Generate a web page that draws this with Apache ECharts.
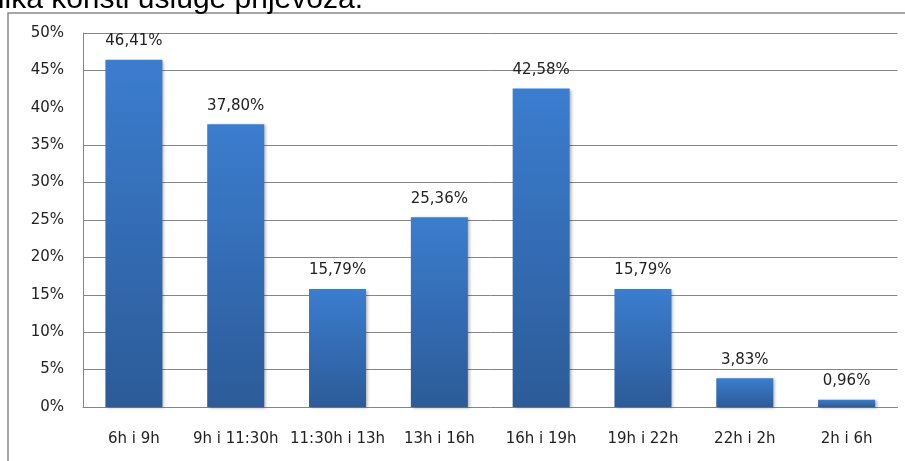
<!DOCTYPE html>
<html>
<head>
<meta charset="utf-8">
<script src="https://cdn.jsdelivr.net/npm/echarts@6/dist/echarts.min.js"></script>
<style>
html,body{margin:0;padding:0;background:#fff;}
#chart{width:905px;height:461px;}
</style>
</head>
<body>
<div id="chart"></div>
<script>
var categories = ['6h i 9h', '9h i 11:30h', '11:30h i 13h', '13h i 16h', '16h i 19h', '19h i 22h', '22h i 2h', '2h i 6h'];
var values = [46.41, 37.80, 15.79, 25.36, 42.58, 15.79, 3.83, 0.96];
var yTicks = [0, 5, 10, 15, 20, 25, 30, 35, 40, 45, 50];
var gridValues = [5, 10, 15, 20, 25, 30, 35, 45, 50];
var titleText = 'nika koristi usluge prijevoza.';

var chart = echarts.init(document.getElementById('chart'), null, {renderer: 'canvas'});
chart.setOption({
  animation: false,
  backgroundColor: '#ffffff',
  graphic: [
    {
      type: 'rect',
      shape: {x: 8, y: 13, width: 1000, height: 1000},
      style: {fill: 'none', stroke: '#8a8a8a', lineWidth: 1.5},
      silent: true, z: -1
    },
    {
      type: 'text',
      x: 363, y: 0,
      style: {
        text: titleText,
        font: '30px "Liberation Sans", Arial, sans-serif',
        fill: '#000',
        align: 'right',
        verticalAlign: 'middle'
      },
      silent: true
    }
  ],
  grid: {left: 83, right: 7.5, top: 33, bottom: 54, containLabel: false},
  xAxis: {
    type: 'category',
    data: categories,
    axisLine: {lineStyle: {color: '#868686', width: 1}},
    axisTick: {show: false},
    axisLabel: {
      interval: 0,
      margin: 25,
      color: '#222',
      fontFamily: '"DejaVu Sans", Verdana, sans-serif',
      fontSize: 15
    }
  },
  yAxis: {
    type: 'value',
    min: yTicks[0], max: yTicks[yTicks.length - 1], interval: 5,
    axisLine: {show: true, lineStyle: {color: '#868686', width: 1}},
    axisTick: {show: false},
    axisLabel: {
      margin: 19,
      color: '#222',
      fontFamily: '"DejaVu Sans", Verdana, sans-serif',
      fontSize: 15,
      formatter: function (v) { return v + '%'; }
    },
    splitLine: {show: false}
  },
  series: [
    {
      type: 'line',
      data: values,
      z: 1,
      silent: true,
      symbol: 'none',
      showSymbol: false,
      lineStyle: {width: 0, opacity: 0},
      markLine: {
        z: 1,
        zlevel: 0,
        silent: true,
        symbol: 'none',
        label: {show: false},
        lineStyle: {color: '#868686', width: 1, type: 'solid'},
        data: gridValues.map(function (v) { return {yAxis: v}; })
      }
    },
    {
      type: 'bar',
      data: values,
      z: 6,
      barWidth: 57,
      itemStyle: {
        color: new echarts.graphic.LinearGradient(0, 0, 0, 1, [
          {offset: 0, color: '#3b7dcf'},
          {offset: 1, color: '#2c5b98'}
        ]),
        shadowBlur: 3,
        shadowOffsetX: 2,
        shadowOffsetY: 1,
        shadowColor: 'rgba(0,0,0,0.3)'
      },
      label: {
        show: true,
        position: 'top',
        distance: 11,
        color: '#222',
        fontFamily: '"DejaVu Sans", Verdana, sans-serif',
        fontSize: 15,
        formatter: function (p) { return p.value.toFixed(2).replace('.', ',') + '%'; }
      }
    }
  ]
});
</script>
</body>
</html>
